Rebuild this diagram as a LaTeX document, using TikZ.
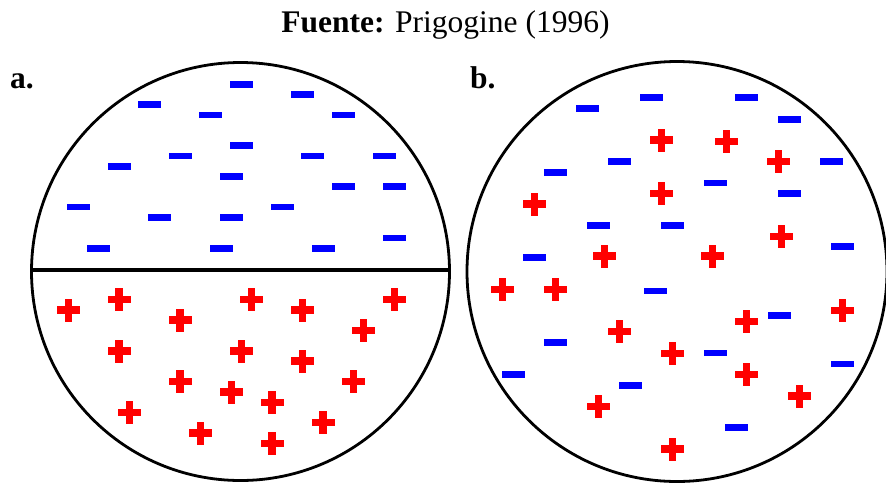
\documentclass[tikz,border=0pt]{standalone}
\usepackage{fontspec}
\setmainfont{Liberation Serif}
\begin{document}
\begin{tikzpicture}[x=1pt,y=-1pt,
  ring/.style={draw=black,line width=2.8pt},
  wall/.style={draw=black,line width=3.6pt},
  minusfill/.style={fill={rgb,255:red,0;green,0;blue,255}},
  plusfill/.style={fill={rgb,255:red,255;green,0;blue,0}},
  lbl/.style={font=\fontsize{31.5}{36}\selectfont, inner sep=0pt, anchor=base west}]
\useasboundingbox (0,0) rectangle (886,483);
% title
\node[inner sep=0pt, anchor=base, font=\fontsize{31.5}{36}\selectfont] (title) at (445.5,32.5) {\textbf{Fuente:} Prigogine (1996)};
\node[lbl] (la) at (10,88) {\textbf{a.}};
\node[lbl] (lb) at (470,88) {\textbf{b.}};
% circle a
\draw[ring] (240.5,271.5) circle (209);
\draw[wall] (31.5,270) -- (449.5,270);
% circle b
\begin{scope}
\clip (0,0) rectangle (886,483);
\draw[ring] (677,271.5) circle (210);
\end{scope}
% minus signs, circle a
\foreach \x/\y in {241.3/84.3, 302.3/94.7, 149.7/104.7, 210.7/115, 343/115,
  241.3/145.7, 180/156, 312.7/156, 384/156, 119/166.3, 231.3/176.3,
  343/186.7, 394.3/186.7, 78.3/207, 282.3/207, 159.7/217.3, 231.3/217.3,
  98.7/248.3, 221/248.3, 323/248.3, 394.3/238}
  \fill[minusfill] (\x-11.5,\y-3.3) rectangle (\x+11.5,\y+3.3);
% plus signs, circle a
\foreach \x/\y in {68.3/310, 119/299.7, 180/320, 251.7/299.7, 302.3/310,
  394.3/299.7, 363.7/330.3, 119/351, 241.3/351, 302.3/361, 180/381.7,
  231.3/392, 272/402.3, 353.7/381.7, 129.3/412.3, 200.7/433, 272/443.3, 323/422.7}
  {\fill[plusfill] (\x-11.5,\y-3.6) rectangle (\x+11.5,\y+3.6);
   \fill[plusfill] (\x-3.6,\y-11.5) rectangle (\x+3.6,\y+11.5);}
% minus signs, circle b
\foreach \x/\y in {587.7/108.3, 651.3/97.7, 746.7/97.7, 789/119.3, 555.7/172.3,
  619.3/161.3, 831.3/161.3, 715/183, 789/193.3, 598.3/225.3, 672.3/225.3,
  534.7/257.3, 842.3/246.7, 655.7/291, 779/315.7, 555.7/342.3, 715/353,
  842.3/364, 513.3/374.3, 630/385.3, 736/427.7}
  \fill[minusfill] (\x-11.5,\y-3.3) rectangle (\x+11.5,\y+3.3);
% plus signs, circle b
\foreach \x/\y in {661.7/140, 726.7/141.7, 778.3/161.7, 661.7/193.3, 534.7/204,
  781.3/236.7, 604.3/256, 712.3/256, 502.3/289.3, 555.7/289.3, 619.3/331.7,
  672.3/353.3, 746.7/321.3, 746.7/374.7, 842.3/310.3, 799.3/396, 598.3/406.7,
  672.3/449}
  {\fill[plusfill] (\x-11.5,\y-3.6) rectangle (\x+11.5,\y+3.6);
   \fill[plusfill] (\x-3.6,\y-11.5) rectangle (\x+3.6,\y+11.5);}
\end{tikzpicture}
\end{document}
